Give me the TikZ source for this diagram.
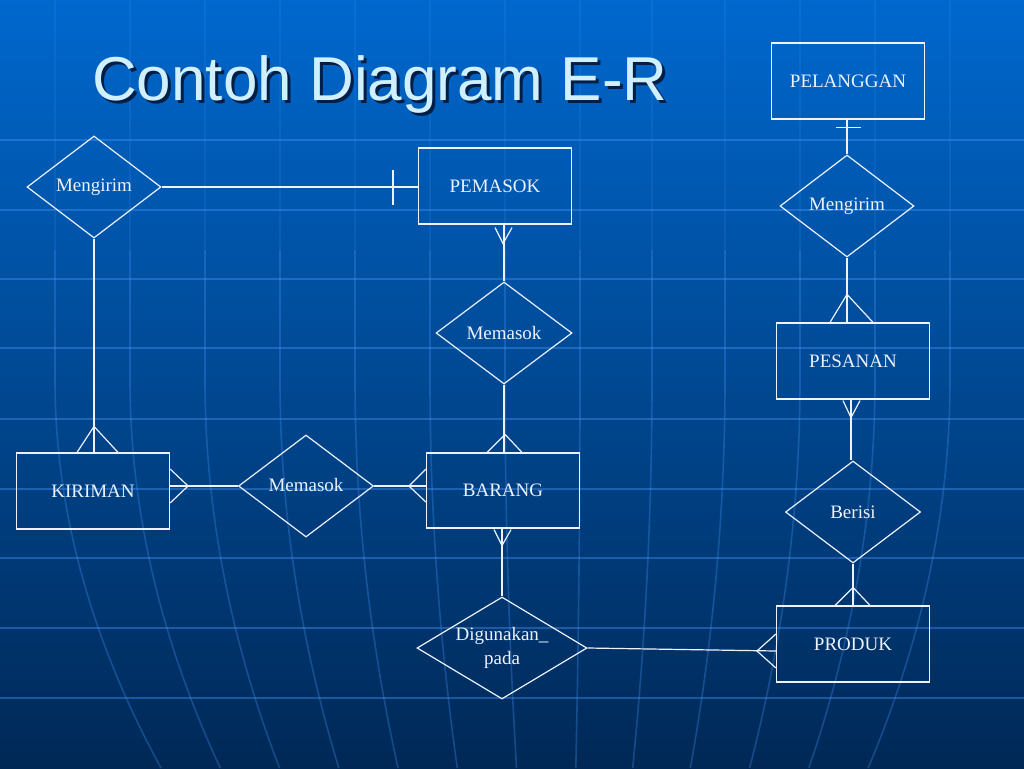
\documentclass[tikz,border=0pt]{standalone}
\usepackage{fontspec}
\setmainfont{Liberation Serif}
\newfontfamily\titlefont{Liberation Sans}
\usetikzlibrary{shapes.geometric,calc}
\definecolor{bgtop}{RGB}{0,104,206}
\definecolor{bgmid}{RGB}{4,74,150}
\definecolor{bgbot}{RGB}{0,40,86}
\definecolor{fg}{RGB}{236,242,255}
\definecolor{gridcol}{RGB}{70,150,250}
\definecolor{titlecol}{RGB}{208,240,255}
\definecolor{titleshadow}{RGB}{0,30,70}
\begin{document}
\begin{tikzpicture}[x=1pt,y=-1pt,
  gridline/.style={draw=gridcol, draw opacity=0.4, line width=1.6pt},
  meridian/.style={draw=gridcol, draw opacity=0.3, line width=1.6pt},
  faintmeridian/.style={draw=gridcol, draw opacity=0.15, line width=1.6pt},
  entity/.style={draw=fg, line width=1.2pt, minimum width=153pt, minimum height=76pt, inner sep=0pt, text=fg, font=\fontsize{19}{22}\selectfont},
  rel/.style={diamond, draw=fg, line width=1.2pt, minimum width=135pt, minimum height=102pt, inner sep=0pt},
  lbl/.style={text=fg, font=\fontsize{19}{24}\selectfont, align=center, inner sep=0pt},
  conn/.style={draw=fg, line width=1.2pt}]
\useasboundingbox (0,0) rectangle (1024,768);
\shade[top color=bgtop, middle color=bgmid, bottom color=bgbot] (0,0) rectangle (1024,768);
% background grid
\foreach \yy in {140,210,279,348,419,489,558,628,698}
  \draw[gridline] (0,\yy) -- (1024,\yy);
\foreach \xx in {55,130,205,280,355,430,505,580,652,725,800,875,950} {
  \pgfmathsetmacro\D{0.21*(560-\xx)}
  \draw[faintmeridian] (\xx,0) -- (\xx,250);
  \draw[meridian] (\xx,250) -- (\xx,380) .. controls (\xx,509) and ({\xx+\D/3},639) .. ({\xx+\D},768);
}
% title
\node[anchor=base west, inner sep=0pt, text=titleshadow, font=\titlefont\fontsize{62}{70}\selectfont] at (95,103) {Contoh Diagram E-R};
\node (title) [anchor=base west, inner sep=0pt, text=titlecol, font=\titlefont\fontsize{62}{70}\selectfont] at (92,100) {Contoh Diagram E-R};
% entities
\node (pel) [entity] at (848,81) {PELANGGAN};
\node (pem) [entity] at (495,186) {PEMASOK};
\node (pes) [entity] at (853,361) {PESANAN};
\node (kir) [entity] at (93,491) {KIRIMAN};
\node (bar) [entity, minimum height=75pt] at (503,490.5) {BARANG};
\node (pro) [entity] at (853,644) {PRODUK};
% relationships
\node (m1) [rel, minimum width=134pt, label={[lbl]center:Mengirim}] at (94,187) {};
\node (ms1) [rel, minimum width=136pt, label={[lbl]center:Memasok}] at (504,333) {};
\node (ms2) [rel, label={[lbl, yshift=1pt]center:Memasok}] at (306,486) {};
\node (m2) [rel, minimum width=134pt, label={[lbl]center:Mengirim}] at (847,206) {};
\node (ber) [rel, label={[lbl]center:Berisi}] at (853,512) {};
\node (dig) [rel, minimum width=170pt, label={[lbl]center:Digunakan\_\\pada}] at (502,648) {};
% connectors
% Mengirim - PEMASOK (one)
\draw[conn] (m1.east) -- (m1.east -| pem.west);
\draw[conn] ($(m1.east -| pem.west)+(-25,-17)$) -- ($(m1.east -| pem.west)+(-25,18)$);
% Mengirim - KIRIMAN (many)
\draw[conn] (m1.south) -- (m1.south |- kir.north);
\draw[conn] ($(m1.south |- kir.north)+(-17,0)$) -- ($(m1.south |- kir.north)+(0,-26)$) -- ($(m1.south |- kir.north)+(24,0)$);
% KIRIMAN - Memasok (many)
\draw[conn] (kir.east |- ms2.west) -- (ms2.west);
\draw[conn] ($(kir.east |- ms2.west)+(0,-17)$) -- ($(kir.east |- ms2.west)+(18,0)$) -- ($(kir.east |- ms2.west)+(0,17)$);
% Memasok - BARANG (many)
\draw[conn] (ms2.east) -- (ms2.east -| bar.west);
\draw[conn] ($(ms2.east -| bar.west)+(0,-17)$) -- ($(ms2.east -| bar.west)+(-17,0)$) -- ($(ms2.east -| bar.west)+(0,16)$);
% PEMASOK - Memasok (many)
\draw[conn] (ms1.north |- pem.south) -- (ms1.north);
\draw[conn] ($(ms1.north |- pem.south)+(-9,3)$) -- ($(ms1.north |- pem.south)+(-1,19)$) -- ($(ms1.north |- pem.south)+(8,3)$);
% Memasok - BARANG (many)
\draw[conn] (ms1.south) -- (ms1.south |- bar.north);
\draw[conn] ($(ms1.south |- bar.north)+(-17,0)$) -- ($(ms1.south |- bar.north)+(1,-18)$) -- ($(ms1.south |- bar.north)+(18,0)$);
% BARANG - Digunakan_pada (many)
\draw[conn] (dig.north |- bar.south) -- (dig.north);
\draw[conn] ($(dig.north |- bar.south)+(-8,1)$) -- ($(dig.north |- bar.south)+(0,17)$) -- ($(dig.north |- bar.south)+(9,1)$);
% Digunakan_pada - PRODUK (many)
\coordinate (proin) at ($(pro.west)+(0,7)$);
\draw[conn] (dig.east) -- (proin);
\draw[conn] ($(proin)+(0,-17)$) -- ($(proin)+(-19,0)$) -- ($(proin)+(0,17)$);
% PELANGGAN - Mengirim (one)
\draw[conn] (m2.north |- pel.south) -- (m2.north);
\draw[conn] ($(m2.north |- pel.south)+(-11,8)$) -- ($(m2.north |- pel.south)+(14,8)$);
% Mengirim - PESANAN (many)
\draw[conn] (m2.south) -- (m2.south |- pes.north);
\draw[conn] ($(m2.south |- pes.north)+(-17,0)$) -- ($(m2.south |- pes.north)+(0,-28)$) -- ($(m2.south |- pes.north)+(26,0)$);
% PESANAN - Berisi (many)
\coordinate (pesout) at ($(pes.south)+(-2,0)$);
\draw[conn] (pesout) -- (pesout |- ber.north);
\draw[conn] ($(pesout)+(-8,1)$) -- ($(pesout)+(0,18)$) -- ($(pesout)+(9,1)$);
% Berisi - PRODUK (many)
\draw[conn] (ber.south) -- (pro.north);
\draw[conn] ($(pro.north)+(-18,0)$) -- ($(pro.north)+(0,-18)$) -- ($(pro.north)+(17,0)$);
\end{tikzpicture}
\end{document}
